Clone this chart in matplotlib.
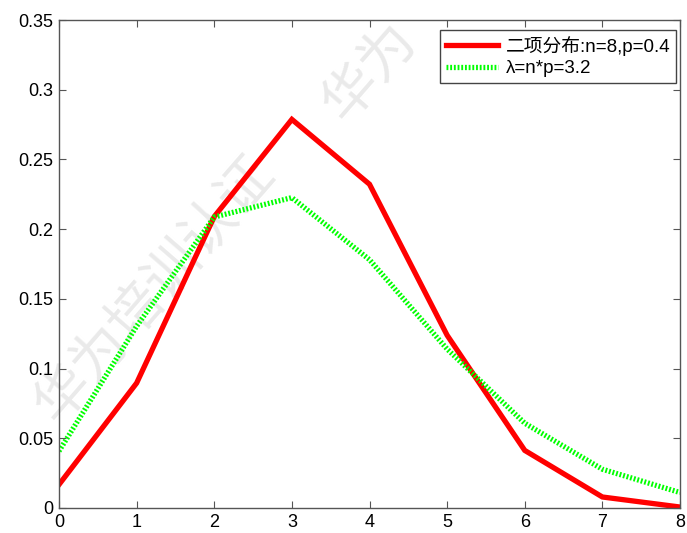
import matplotlib
matplotlib.use("Agg")
import matplotlib.pyplot as plt

x = [0, 1, 2, 3, 4, 5, 6, 7, 8]
binom = [0.0168, 0.0896, 0.2090, 0.2787, 0.2322, 0.1239, 0.0413, 0.0079, 0.0007]
poisson = [0.0408, 0.1304, 0.2087, 0.2226, 0.1781, 0.1140, 0.0608, 0.0278, 0.0111]
label_binom = "二项分布:n=8,p=0.4"
label_pois = "λ=n*p=3.2"
yticks = [0, 0.05, 0.1, 0.15, 0.2, 0.25, 0.3, 0.35]
yticklabels = ["0", "0.05", "0.1", "0.15", "0.2", "0.25", "0.3", "0.35"]

plt.rcParams['font.family'] = ['Liberation Sans', 'Noto Sans CJK SC', 'DejaVu Sans']

fig = plt.figure(figsize=(6.87, 5.33), dpi=100)
ax = fig.add_axes([59/687, 1 - 508/533, (680-59)/687, (508-20)/533])

ax.plot(x, binom, color='#ff0000', lw=3.8, label=label_binom, solid_joinstyle='miter')
ax.plot(x, poisson, color='#00ff00', lw=3.8, ls=(0, (0.35, 0.35)), label=label_pois)

ax.set_xlim(0, 8)
ax.set_ylim(0, 0.35)
ax.set_xticks(x)
ax.set_yticks(yticks)
ax.set_yticklabels(yticklabels)
ax.tick_params(direction='in', length=5, width=0.8, labelsize=13, top=True, right=True, colors='#555555', labelcolor='black', pad=4)
for s in ax.spines.values():
    s.set_color('#555555')
    s.set_linewidth(1.0)

leg = ax.legend(loc='upper right', bbox_to_anchor=(676/687, 1 - 30/533), bbox_transform=fig.transFigure,
                fontsize=13.5, fancybox=False, framealpha=1,
                edgecolor='#444444', borderaxespad=0, handlelength=2.8,
                handletextpad=0.4, borderpad=0.3, labelspacing=0.25)
leg.get_frame().set_linewidth(1.0)

# watermark
fig.text(155/687, 1 - 290/533, "华为培训认证", fontsize=40, color='#eaeaea', rotation=49,
         ha='center', va='center', family=['Noto Sans CJK SC'], zorder=0)
fig.text(370/687, 1 - 72/533, "华为", fontsize=40, color='#eaeaea', rotation=49,
         ha='center', va='center', family=['Noto Sans CJK SC'], zorder=0)
ax.set_zorder(1)
ax.patch.set_alpha(0)

fig.savefig("out.png", dpi=100)
